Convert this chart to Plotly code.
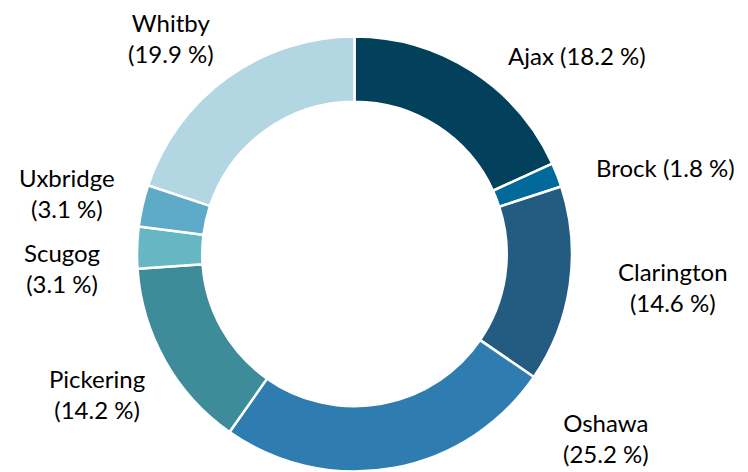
import plotly.graph_objects as go

# Data
regions = ["Ajax", "Brock", "Clarington", "Oshawa", "Pickering", "Scugog", "Uxbridge", "Whitby"]
shares = [18.2, 1.8, 14.6, 25.2, 14.2, 3.1, 3.1, 19.9]

# Style
colors = ["#03405C", "#016A9A", "#235C80", "#2F7DB0", "#3E8C99", "#67B6C3", "#5FAAC7", "#B3D6E3"]
W, H = 748, 472
# label block centres in pixels (x, y from top)
label_px = [(577, 55), (665, 167), (673, 287), (606, 438), (97, 394), (62, 268), (67, 193), (171, 38)]
split_label = [False, False, True, True, True, True, True, True]

cx, cy, R = 354.5, 254.0, 217.5

fig = go.Figure(go.Pie(
    labels=regions,
    values=shares,
    hole=0.70,
    sort=False,
    direction="clockwise",
    rotation=0,
    marker=dict(colors=colors, line=dict(color="white", width=2.5)),
    textinfo="none",
    hoverinfo="label+percent",
    showlegend=False,
    domain=dict(x=[max(0, (cx - R) / W), min(1, (cx + R) / W)],
                y=[max(0, (H - cy - R) / H), min(1, (H - cy + R) / H)]),
))

annotations = []
for name, v, (px, py), split in zip(regions, shares, label_px, split_label):
    txt = f"{name}<br>({v:.1f} %)" if split else f"{name} ({v:.1f} %)"
    annotations.append(dict(
        x=px / W, y=1 - py / H, xref="paper", yref="paper",
        text=txt, showarrow=False, xanchor="center", yanchor="middle",
        align="center", font=dict(family="Lato", size=24, color="#000000"),
    ))

fig.update_layout(
    width=W, height=H,
    margin=dict(l=0, r=0, t=0, b=0),
    paper_bgcolor="white", plot_bgcolor="white",
    annotations=annotations,
)

fig.write_html("out.html", config={"displayModeBar": False},
               post_script="document.body.style.margin='0';")
